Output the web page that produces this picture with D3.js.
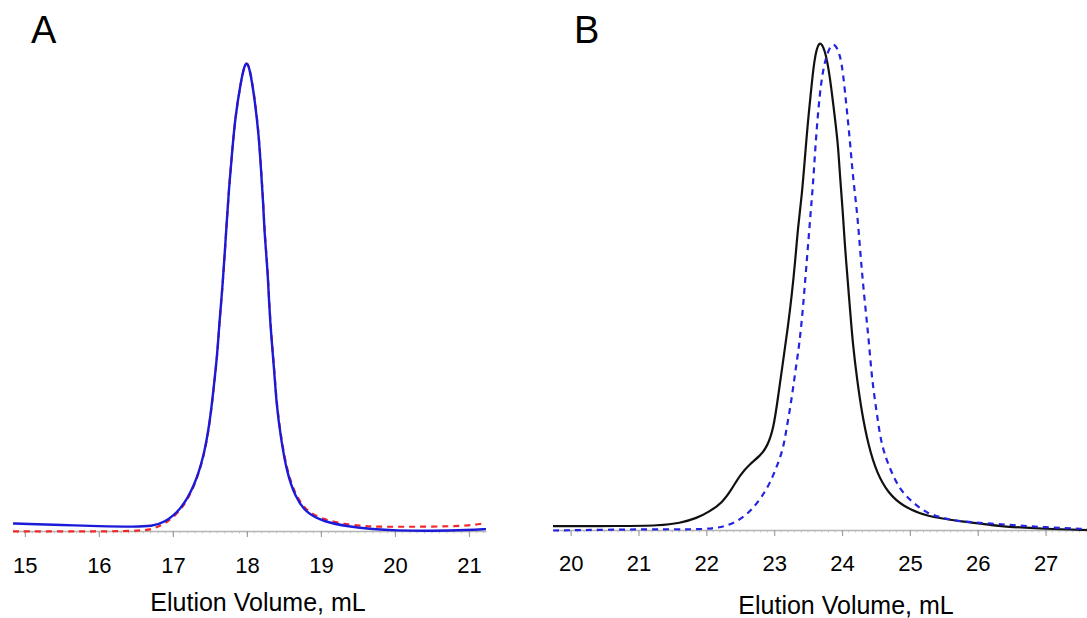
<!DOCTYPE html>
<html>
<head>
<meta charset="utf-8">
<script src="https://cdn.jsdelivr.net/npm/d3@7"></script>
<style>
  body { margin: 0; background: #fff; }
  svg { display: block; }
  text { font-family: "Liberation Sans", Arial, sans-serif; fill: #000; }
</style>
</head>
<body>
<svg id="chart"></svg>
<script>

// panel A: elution volume (mL) and normalised absorbance
var aVolBlue = [14.84, 15.0, 15.5, 16.0, 16.5, 16.71, 16.88, 17.11, 17.29, 17.42, 17.50, 17.55, 17.60, 17.63, 17.67, 17.70,
                17.73, 17.76, 17.80, 17.84, 17.91, 17.98, 18.04, 18.11, 18.16, 18.19, 18.22, 18.24, 18.28, 18.30, 18.33,
                18.37, 18.40, 18.46, 18.54, 18.65, 18.80, 19.03, 19.38, 19.7, 20.0, 20.5, 21.0, 21.23];
var aSigBlue = [0.016, 0.015, 0.013, 0.010, 0.009, 0.010, 0.017, 0.045, 0.095, 0.159, 0.232, 0.302, 0.374, 0.446, 0.517, 0.588,
                0.660, 0.731, 0.802, 0.874, 0.945, 1.0, 0.981, 0.909, 0.838, 0.767, 0.696, 0.624, 0.553, 0.481, 0.410,
                0.339, 0.267, 0.195, 0.124, 0.073, 0.038, 0.020, 0.009, 0.004, 0.001, 0.0, 0.002, 0.004];

var aVolRed = [14.84, 15.5, 16.0, 16.5, 16.71, 16.79, 16.88, 17.11, 17.29, 17.42, 17.50, 17.55, 17.60, 17.63, 17.67, 17.70,
               17.73, 17.76, 17.80, 17.84, 17.91, 17.98, 18.04, 18.11, 18.16, 18.19, 18.22, 18.24, 18.28, 18.30, 18.33,
               18.37, 18.40, 18.46, 18.54, 18.65, 18.80, 19.03, 19.38, 19.7, 20.0, 20.5, 21.0, 21.23];
var aSigRed = [-0.001, -0.001, -0.001, 0.0, 0.003, 0.009, 0.014, 0.042, 0.093, 0.157, 0.230, 0.300, 0.372, 0.444, 0.515, 0.586,
               0.659, 0.730, 0.801, 0.873, 0.944, 1.0, 0.983, 0.912, 0.842, 0.771, 0.700, 0.628, 0.557, 0.486, 0.414,
               0.343, 0.272, 0.200, 0.129, 0.078, 0.042, 0.024, 0.013, 0.009, 0.009, 0.009, 0.011, 0.017];

// panel B
var bVolBlack = [19.74, 20.73, 21.32, 21.61, 21.86, 22.05, 22.23, 22.37, 22.50, 22.64, 22.79, 22.89, 22.99, 23.06, 23.13,
                 23.20, 23.26, 23.31, 23.35, 23.41, 23.45, 23.49, 23.54, 23.59, 23.66, 23.75, 23.82, 23.88, 23.94, 23.97,
                 24.01, 24.04, 24.08, 24.12, 24.16, 24.22, 24.29, 24.39, 24.51, 24.68, 24.90, 25.25, 25.74, 26.33, 27.02, 27.61];
var bSigBlack = [0.008, 0.008, 0.009, 0.014, 0.024, 0.038, 0.055, 0.082, 0.113, 0.134, 0.151, 0.168, 0.205, 0.274, 0.343,
                 0.411, 0.479, 0.548, 0.616, 0.685, 0.753, 0.822, 0.890, 0.959, 1.0, 0.979, 0.925, 0.856, 0.788, 0.719,
                 0.651, 0.582, 0.514, 0.445, 0.377, 0.308, 0.240, 0.171, 0.117, 0.075, 0.048, 0.027, 0.018, 0.007, 0.002, 0.0];

var bVolBlue = [19.74, 21.32, 21.81, 22.10, 22.30, 22.50, 22.67, 22.82, 22.94, 23.04, 23.13, 23.18, 23.25, 23.31, 23.37,
                23.42, 23.46, 23.50, 23.54, 23.58, 23.61, 23.65, 23.69, 23.75, 23.86, 23.97, 24.02, 24.07, 24.12, 24.16,
                24.22, 24.26, 24.30, 24.35, 24.40, 24.44, 24.51, 24.58, 24.71, 24.85, 25.05, 25.25, 25.49, 25.74, 26.33, 27.02, 27.61];
var bSigBlue = [-0.001, 0.002, 0.001, 0.003, 0.008, 0.021, 0.041, 0.068, 0.096, 0.130, 0.164, 0.205, 0.260, 0.322, 0.377,
                0.445, 0.514, 0.582, 0.651, 0.719, 0.788, 0.856, 0.911, 0.959, 0.999, 0.972, 0.925, 0.856, 0.788, 0.719,
                0.651, 0.582, 0.514, 0.445, 0.377, 0.308, 0.240, 0.171, 0.123, 0.082, 0.055, 0.034, 0.024, 0.017, 0.012, 0.005, 0.002];

// axis ranges and tick labels
var aDomain = [14.84, 21.23];
var bDomain = [19.74, 27.61];
var aTicks = [15, 16, 17, 18, 19, 20, 21];
var bTicks = [20, 21, 22, 23, 24, 25, 26, 27];

var W = 1087, H = 618;

var svg = d3.select("#chart")
  .attr("width", W)
  .attr("height", H);

svg.append("rect")
  .attr("width", W)
  .attr("height", H)
  .attr("fill", "#fff");

function zip(xs, ys) {
  return xs.map(function(v, i) { return [v, ys[i]]; });
}

function drawPanel(opt) {
  var x = d3.scaleLinear().domain(opt.domain).range(opt.xRange);
  var y = d3.scaleLinear().domain([0, 1]).range([opt.axisY, opt.topY]);

  var g = svg.append("g");

  // minor ticks every 0.1 mL
  var minor = d3.range(Math.ceil(opt.domain[0] * 10), Math.floor(opt.domain[1] * 10) + 1)
    .map(function(d) { return d / 10; });
  g.selectAll("line.minor")
    .data(minor)
    .enter()
    .append("line")
      .attr("class", "minor")
      .attr("x1", function(d) { return x(d); })
      .attr("x2", function(d) { return x(d); })
      .attr("y1", opt.axisY)
      .attr("y2", opt.axisY + 2.5)
      .attr("stroke", "#c8c8c8")
      .attr("stroke-width", 1);

  // bottom axis, gray line with short ticks
  var axis = d3.axisBottom(x)
    .tickValues(opt.ticks)
    .tickSize(6)
    .tickSizeOuter(0)
    .tickFormat(d3.format("d"))
    .tickPadding(opt.labelPad);

  var ax = g.append("g")
    .attr("transform", "translate(0," + opt.axisY + ")")
    .call(axis);
  ax.select(".domain").attr("stroke", "#b4b4b4").attr("stroke-width", 1.6);
  ax.selectAll(".tick line").attr("stroke", "#a0a0a0").attr("stroke-width", 1.2);
  ax.selectAll(".tick text")
    .attr("fill", "#000")
    .style("font-size", "22px")
    .style("font-family", "'Liberation Sans', Arial, sans-serif");

  // smoothed trace through the read-off points
  var line = d3.line()
    .curve(d3.curveBasis)
    .x(function(d) { return x(d[0]); })
    .y(function(d) { return y(d[1]); });

  opt.series.forEach(function(s) {
    g.append("path")
      .datum(zip(s.vol, s.sig))
      .attr("d", line)
      .attr("fill", "none")
      .attr("stroke", s.color)
      .attr("stroke-width", s.width)
      .attr("stroke-dasharray", s.dash)
      .attr("stroke-linejoin", "round");
  });

  // axis title
  g.append("text")
    .attr("x", opt.titleX)
    .attr("y", opt.titleY)
    .attr("text-anchor", "middle")
    .style("font-size", "25px")
    .text("Elution Volume, mL");

  // panel letter
  g.append("text")
    .attr("x", opt.letterX)
    .attr("y", 43)
    .style("font-size", "38px")
    .text(opt.letter);
}

drawPanel({
  domain: aDomain,
  xRange: [13, 486],
  axisY: 531,
  topY: 59,
  ticks: aTicks,
  labelPad: 20,
  titleX: 258,
  titleY: 611,
  letter: "A",
  letterX: 31,
  series: [
    { vol: aVolRed, sig: aSigRed, color: "#f02828", width: 2.2, dash: "6,5" },
    { vol: aVolBlue, sig: aSigBlue, color: "#1a1ad8", width: 2.4, dash: null }
  ]
});

drawPanel({
  domain: bDomain,
  xRange: [553, 1087],
  axisY: 530,
  topY: 39,
  ticks: bTicks,
  labelPad: 19,
  titleX: 846,
  titleY: 614,
  letter: "B",
  letterX: 574,
  series: [
    { vol: bVolBlack, sig: bSigBlack, color: "#111", width: 2.2, dash: null },
    { vol: bVolBlue, sig: bSigBlue, color: "#2424e0", width: 2.2, dash: "6,5" }
  ]
});

</script>
</body>
</html>
